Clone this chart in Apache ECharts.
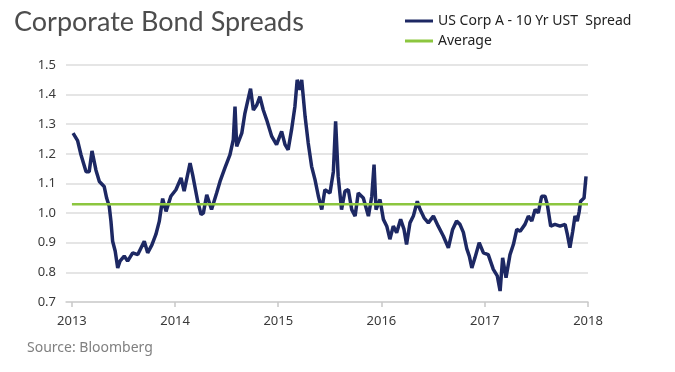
<!DOCTYPE html>
<html><head><meta charset="utf-8">
<script src="https://cdn.jsdelivr.net/npm/echarts@6/dist/echarts.min.js"></script>
<style>html,body{margin:0;padding:0;background:#fff}#c{width:675px;height:372px}</style>
</head><body><div id="c"></div>
<script>
const dates = ['2013-01-05','2013-01-21','2013-02-02','2013-02-20','2013-03-03','2013-03-13','2013-03-27','2013-04-08','2013-04-25','2013-05-04','2013-05-13','2013-05-19','2013-05-25','2013-06-03','2013-06-12','2013-06-20','2013-07-05','2013-07-17','2013-08-04','2013-08-22','2013-09-14','2013-09-26','2013-10-11','2013-10-25','2013-11-06','2013-11-18','2013-11-30','2013-12-17','2014-01-04','2014-01-22','2014-02-02','2014-02-23','2014-03-04','2014-03-22','2014-04-03','2014-04-11','2014-04-23','2014-05-10','2014-05-28','2014-06-09','2014-06-26','2014-07-14','2014-07-26','2014-08-01','2014-08-07','2014-08-25','2014-09-05','2014-09-17','2014-09-25','2014-10-05','2014-10-17','2014-10-28','2014-11-09','2014-11-21','2014-12-09','2014-12-26','2015-01-13','2015-01-25','2015-02-05','2015-02-17','2015-03-01','2015-03-09','2015-03-19','2015-03-25','2015-04-06','2015-04-17','2015-04-29','2015-05-11','2015-05-23','2015-06-04','2015-06-15','2015-07-03','2015-07-15','2015-07-23','2015-08-01','2015-08-13','2015-08-25','2015-09-06','2015-09-18','2015-09-30','2015-10-11','2015-10-29','2015-11-16','2015-11-28','2015-12-06','2015-12-13','2015-12-27','2016-01-08','2016-01-20','2016-01-31','2016-02-12','2016-02-24','2016-03-09','2016-03-21','2016-03-30','2016-04-11','2016-04-23','2016-05-07','2016-05-17','2016-05-31','2016-06-15','2016-07-03','2016-07-20','2016-08-07','2016-08-25','2016-09-09','2016-09-23','2016-10-05','2016-10-17','2016-10-29','2016-11-07','2016-11-16','2016-11-27','2016-12-12','2016-12-27','2017-01-13','2017-01-31','2017-02-14','2017-02-24','2017-03-05','2017-03-17','2017-03-31','2017-04-12','2017-04-24','2017-05-06','2017-05-23','2017-06-04','2017-06-16','2017-06-28','2017-07-09','2017-07-21','2017-08-02','2017-08-10','2017-08-22','2017-09-06','2017-09-24','2017-10-12','2017-10-20','2017-10-29','2017-11-08','2017-11-16','2017-11-24','2017-12-01','2017-12-06','2017-12-18','2017-12-25'];
const spread = [1.27,1.245,1.197,1.14,1.14,1.21,1.145,1.107,1.09,1.05,1.023,0.973,0.905,0.872,0.815,0.838,0.855,0.838,0.866,0.86,0.905,0.866,0.893,0.928,0.972,1.049,1.006,1.057,1.079,1.119,1.074,1.169,1.13,1.04,0.995,1.0,1.062,1.012,1.068,1.107,1.152,1.197,1.248,1.36,1.225,1.27,1.337,1.387,1.42,1.348,1.365,1.393,1.348,1.315,1.259,1.231,1.276,1.231,1.214,1.281,1.36,1.45,1.416,1.45,1.326,1.237,1.158,1.113,1.057,1.012,1.079,1.068,1.14,1.31,1.124,1.012,1.074,1.079,1.012,0.99,1.068,1.051,0.99,1.057,1.164,1.012,1.046,0.979,0.956,0.912,0.956,0.934,0.979,0.945,0.894,0.967,0.99,1.04,1.012,0.984,0.967,0.99,0.956,0.923,0.883,0.945,0.973,0.962,0.935,0.88,0.855,0.815,0.849,0.9,0.866,0.86,0.81,0.788,0.737,0.849,0.782,0.86,0.894,0.945,0.939,0.962,0.99,0.973,1.012,1.001,1.057,1.057,1.029,0.956,0.962,0.956,0.962,0.928,0.883,0.939,0.99,0.973,1.006,1.04,1.051,1.124];
const avgDates = ['2013-01-01','2018-01-01'];
const avgValues = [1.03,1.03];
const yearTicks = ['2013-01-01','2014-01-01','2015-01-01','2016-01-01','2017-01-01','2018-01-01'];
const seriesNames = ['US Corp A - 10 Yr UST  Spread','Average'];

const t = d => Date.parse(d + 'T00:00:00Z');
const tickTimes = yearTicks.map(t);
const chart = echarts.init(document.getElementById('c'));
chart.setOption({
  animation: false,
  title: {text: 'Corporate Bond Spreads', left: 9, top: 4,
    textStyle: {fontFamily: 'Lato', fontSize: 27, fontWeight: 'normal', color: '#4d4d4d'}},
  legend: {orient: 'vertical', left: 400, top: 9, itemWidth: 28, itemHeight: 3, itemGap: 6,
    icon: 'rect',
    textStyle: {fontFamily: 'Noto Sans', fontSize: 14, color: '#222'},
    data: seriesNames},
  graphic: [{type: 'text', left: 27, top: 341,
    style: {text: 'Source: Bloomberg', fontFamily: 'Noto Sans', fontSize: 14, fill: '#808080'}}],
  grid: {left: 66, right: 87, top: 65, bottom: 70},
  xAxis: {type: 'value', min: t('2012-12-11'), max: tickTimes[5],
    axisLine: {lineStyle: {color: '#d0d0d0', width: 1.5}},
    axisTick: {show: true, customValues: tickTimes, length: 5, lineStyle: {color: '#c8c8c8', width: 1.5}},
    axisLabel: {customValues: tickTimes, formatter: v => String(new Date(v).getUTCFullYear()),
      fontFamily: 'Noto Sans', fontSize: 13, color: '#3a3a3a', margin: 13},
    splitLine: {show: false}},
  yAxis: {type: 'value', min: 0.7, max: 1.5, interval: 0.1,
    axisLine: {show: false}, axisTick: {show: false},
    axisLabel: {formatter: v => v.toFixed(1), fontFamily: 'Noto Sans', fontSize: 13, color: '#3a3a3a', margin: 10},
    splitLine: {lineStyle: {color: '#dcdcdc', width: 1.5}}},
  series: [
    {name: seriesNames[0], type: 'line', showSymbol: false, symbol: 'none',
      data: dates.map((d,i) => [t(d), spread[i]]),
      lineStyle: {color: '#1d2863', width: 3.5}, itemStyle: {color: '#1d2863'}, z: 2},
    {name: seriesNames[1], type: 'line', showSymbol: false, symbol: 'none',
      data: avgDates.map((d,i) => [t(d), avgValues[i]]),
      lineStyle: {color: '#8cc63f', width: 2.5}, itemStyle: {color: '#8cc63f'}, z: 3}
  ]
});
</script></body></html>
